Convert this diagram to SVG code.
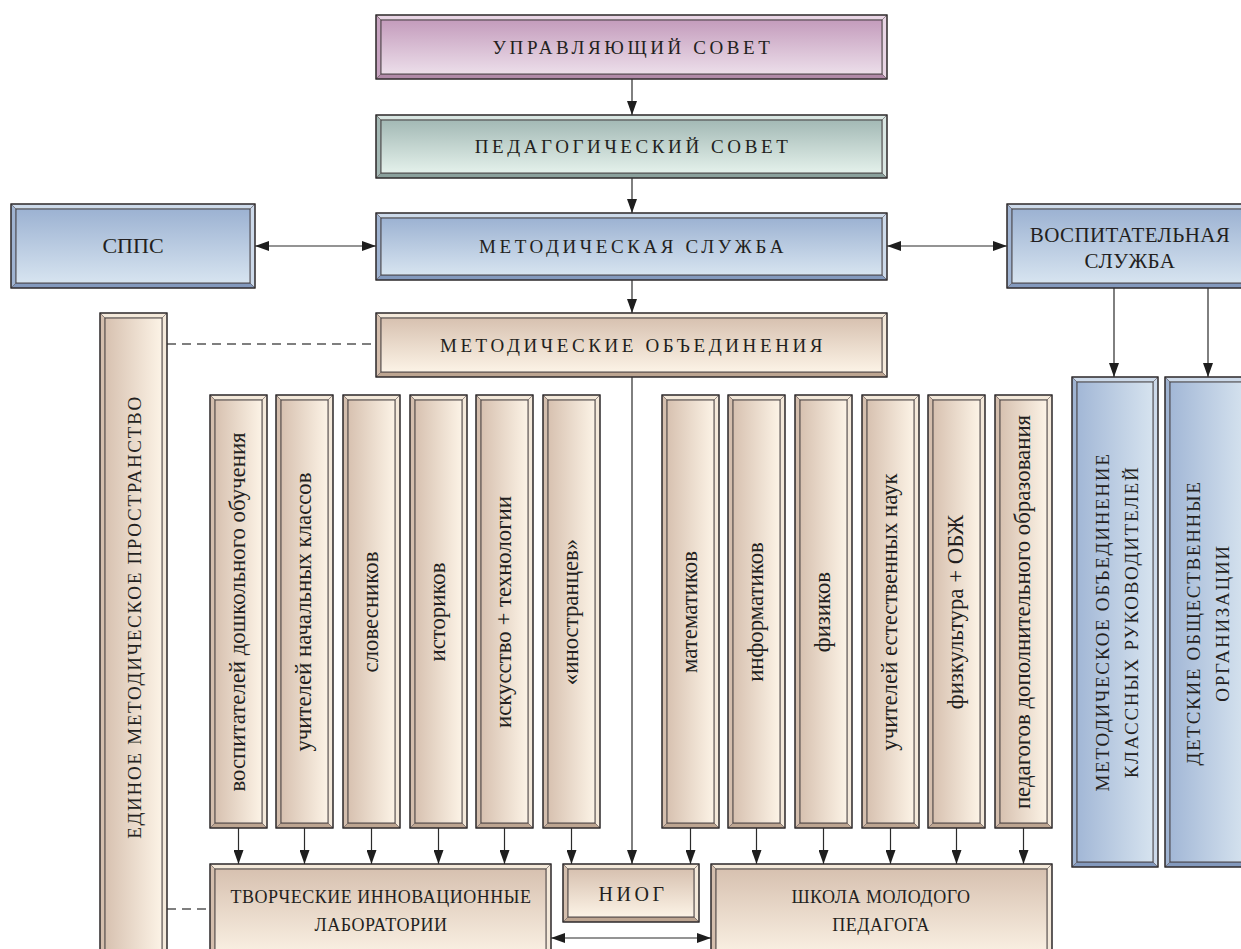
<svg xmlns="http://www.w3.org/2000/svg" xmlns:xlink="http://www.w3.org/1999/xlink" width="1241" height="949" viewBox="0 0 1241 949" font-family="'Liberation Serif', 'DejaVu Serif', serif">
<style>
text{font-family:'Liberation Serif','DejaVu Serif',serif;fill:#231f20}
.h{font-size:19px;letter-spacing:3.6px;text-anchor:middle}
.c{font-size:21px;letter-spacing:0.4px;text-anchor:middle}
.v{font-size:19px;letter-spacing:1.7px;text-anchor:middle}
.s{font-size:22.8px;text-anchor:middle}
.b{font-size:18px;letter-spacing:0.5px;text-anchor:middle}
.ol{fill:none;stroke:#2e2a2b;stroke-width:1.4}
.in{stroke:#3d3738;stroke-width:0.9}
polygon{stroke:#5e5457;stroke-width:0.5}
.pl{fill:#e8d5e4}.pm{fill:#c7a3c0}.pd{fill:#b08aa8}
.gl{fill:#d9e6e2}.gm{fill:#a3b8b4}.gd{fill:#8aa09c}
.ul{fill:#cddaea}.um{fill:#9fb3d1}.ud{fill:#8399bd}
.el{fill:#f4e9da}.em{fill:#d4bead}.ed{fill:#bda591}
.ln{fill:none;stroke:#2b2b2b;stroke-width:1.2}
.ar{marker-end:url(#ah)}
.dar{marker-start:url(#ah);marker-end:url(#ah)}
.ds{fill:none;stroke:#555;stroke-width:1.3;stroke-dasharray:9 6}
</style>
<defs>
<marker id="ah" markerUnits="userSpaceOnUse" markerWidth="14" markerHeight="10" refX="14" refY="5" orient="auto-start-reverse" viewBox="0 0 14 10"><path d="M0,0 L14,5 L0,10 z" fill="#1e1e1e"/></marker>
<linearGradient id="pkV" x1="0" y1="0" x2="0" y2="1"><stop offset="0" stop-color="#c49cbc"/><stop offset="1" stop-color="#ecdeea"/></linearGradient>
<linearGradient id="gnV" x1="0" y1="0" x2="0" y2="1"><stop offset="0" stop-color="#a3b9b5"/><stop offset="1" stop-color="#e4f1eb"/></linearGradient>
<linearGradient id="buV" x1="0" y1="0" x2="0" y2="1"><stop offset="0" stop-color="#9cb2d2"/><stop offset="1" stop-color="#d7e4f0"/></linearGradient>
<linearGradient id="buH" x1="0" y1="0" x2="1" y2="0"><stop offset="0" stop-color="#a2b7d6"/><stop offset="1" stop-color="#d6e3ef"/></linearGradient>
<linearGradient id="beV" x1="0" y1="0" x2="0" y2="1"><stop offset="0" stop-color="#d7c1b0"/><stop offset="1" stop-color="#fcf3e6"/></linearGradient>
<linearGradient id="beH" x1="0" y1="0" x2="1" y2="0"><stop offset="0" stop-color="#d7c1b0"/><stop offset="1" stop-color="#fcf3e6"/></linearGradient>
<symbol id="sb" viewBox="0 0 57 433" width="57" height="433" overflow="visible">
<rect width="57" height="433" class="em"/>
<polygon class="el" points="0,0 57,0 52,5 5,5"/>
<polygon class="el" points="57,0 57,433 52,428 52,5"/>
<polygon class="ed" points="0,433 57,433 52,428 5,428"/>
<polygon class="em" points="0,0 0,433 5,428 5,5"/>
<rect x="5" y="5" width="47" height="423" fill="url(#beH)" class="in"/>
<rect width="57" height="433" class="ol"/>
</symbol>
<symbol id="ub" viewBox="0 0 86 490" width="86" height="490" overflow="visible">
<rect width="86" height="490" class="um"/>
<polygon class="ul" points="0,0 86,0 81,5 5,5"/>
<polygon class="ul" points="86,0 86,490 81,485 81,5"/>
<polygon class="ud" points="0,490 86,490 81,485 5,485"/>
<polygon class="um" points="0,0 0,490 5,485 5,5"/>
<rect x="5" y="5" width="76" height="480" fill="url(#buH)" class="in"/>
<rect width="86" height="490" class="ol"/>
</symbol>
<symbol id="lb" viewBox="0 0 341 100" width="341" height="100" overflow="visible">
<rect width="341" height="100" class="em"/>
<polygon class="el" points="0,0 341,0 336,5 5,5"/>
<polygon class="el" points="341,0 341,100 336,95 336,5"/>
<polygon class="ed" points="0,100 341,100 336,95 5,95"/>
<polygon class="em" points="0,0 0,100 5,95 5,5"/>
<rect x="5" y="5" width="331" height="90" fill="url(#beV)" class="in"/>
<rect width="341" height="100" class="ol"/>
</symbol>
</defs>
<rect width="1241" height="949" fill="#ffffff"/>

<g id="connectors">
<line class="ln ar" x1="632" y1="79" x2="632" y2="115"/>
<line class="ln ar" x1="632" y1="178" x2="632" y2="213"/>
<line class="ln ar" x1="632" y1="280" x2="632" y2="313"/>
<line class="ln ar" x1="632" y1="377" x2="632" y2="864"/>
<line class="ln dar" x1="255" y1="246" x2="376" y2="246"/>
<line class="ln dar" x1="887" y1="246" x2="1007" y2="246"/>
<line class="ln ar" x1="1114" y1="288" x2="1114" y2="377"/>
<line class="ln ar" x1="1208" y1="288" x2="1208" y2="377"/>
<line class="ds" x1="167" y1="344" x2="376" y2="344"/>
<line class="ds" x1="167" y1="909" x2="210" y2="909"/>
<line class="ln dar" x1="551" y1="938" x2="711" y2="938"/>
<line class="ln ar" x1="238.5" y1="828" x2="238.5" y2="864"/>
<line class="ln ar" x1="304.5" y1="828" x2="304.5" y2="864"/>
<line class="ln ar" x1="371.5" y1="828" x2="371.5" y2="864"/>
<line class="ln ar" x1="438.5" y1="828" x2="438.5" y2="864"/>
<line class="ln ar" x1="504.5" y1="828" x2="504.5" y2="864"/>
<line class="ln ar" x1="571.5" y1="828" x2="571.5" y2="864"/>
<line class="ln ar" x1="690.5" y1="828" x2="690.5" y2="864"/>
<line class="ln ar" x1="756.5" y1="828" x2="756.5" y2="864"/>
<line class="ln ar" x1="823.5" y1="828" x2="823.5" y2="864"/>
<line class="ln ar" x1="890.5" y1="828" x2="890.5" y2="864"/>
<line class="ln ar" x1="956.5" y1="828" x2="956.5" y2="864"/>
<line class="ln ar" x1="1023.5" y1="828" x2="1023.5" y2="864"/>
</g>

<g id="upravl">
<rect x="376" y="15" width="511" height="64" class="pm"/>
<polygon class="pl" points="376,15 887,15 882,20 381,20"/>
<polygon class="pl" points="887,15 887,79 882,74 882,20"/>
<polygon class="pd" points="376,79 887,79 882,74 381,74"/>
<polygon class="pm" points="376,15 376,79 381,74 381,20"/>
<rect x="381" y="20" width="501" height="54" fill="url(#pkV)" class="in"/>
<rect x="376" y="15" width="511" height="64" class="ol"/>
<text class="h" x="633" y="53.5">УПРАВЛЯЮЩИЙ СОВЕТ</text>
</g>

<g id="pedsovet">
<rect x="376" y="115" width="511" height="63" class="gm"/>
<polygon class="gl" points="376,115 887,115 882,120 381,120"/>
<polygon class="gl" points="887,115 887,178 882,173 882,120"/>
<polygon class="gd" points="376,178 887,178 882,173 381,173"/>
<polygon class="gm" points="376,115 376,178 381,173 381,120"/>
<rect x="381" y="120" width="501" height="53" fill="url(#gnV)" class="in"/>
<rect x="376" y="115" width="511" height="63" class="ol"/>
<text class="h" x="633" y="153">ПЕДАГОГИЧЕСКИЙ СОВЕТ</text>
</g>

<g id="metsluzhba">
<rect x="376" y="213" width="511" height="67" class="um"/>
<polygon class="ul" points="376,213 887,213 882,218 381,218"/>
<polygon class="ul" points="887,213 887,280 882,275 882,218"/>
<polygon class="ud" points="376,280 887,280 882,275 381,275"/>
<polygon class="um" points="376,213 376,280 381,275 381,218"/>
<rect x="381" y="218" width="501" height="57" fill="url(#buV)" class="in"/>
<rect x="376" y="213" width="511" height="67" class="ol"/>
<text class="h" x="633" y="253">МЕТОДИЧЕСКАЯ СЛУЖБА</text>
</g>

<g id="spps">
<rect x="11" y="204" width="244" height="84" class="um"/>
<polygon class="ul" points="11,204 255,204 250,209 16,209"/>
<polygon class="ul" points="255,204 255,288 250,283 250,209"/>
<polygon class="ud" points="11,288 255,288 250,283 16,283"/>
<polygon class="um" points="11,204 11,288 16,283 16,209"/>
<rect x="16" y="209" width="234" height="74" fill="url(#buV)" class="in"/>
<rect x="11" y="204" width="244" height="84" class="ol"/>
<text class="c" x="133" y="253" style="font-size:22px;letter-spacing:0">СППС</text>
</g>

<g id="vospit">
<rect x="1007" y="204" width="244" height="84" class="um"/>
<polygon class="ul" points="1007,204 1251,204 1246,209 1012,209"/>
<polygon class="ul" points="1251,204 1251,288 1246,283 1246,209"/>
<polygon class="ud" points="1007,288 1251,288 1246,283 1012,283"/>
<polygon class="um" points="1007,204 1007,288 1012,283 1012,209"/>
<rect x="1012" y="209" width="234" height="74" fill="url(#buV)" class="in"/>
<rect x="1007" y="204" width="244" height="84" class="ol"/>
<text class="c" x="1130" y="242">ВОСПИТАТЕЛЬНАЯ</text>
<text class="c" x="1130" y="268">СЛУЖБА</text>
</g>

<g id="metobed">
<rect x="376" y="313" width="511" height="64" class="em"/>
<polygon class="el" points="376,313 887,313 882,318 381,318"/>
<polygon class="el" points="887,313 887,377 882,372 882,318"/>
<polygon class="ed" points="376,377 887,377 882,372 381,372"/>
<polygon class="em" points="376,313 376,377 381,372 381,318"/>
<rect x="381" y="318" width="501" height="54" fill="url(#beV)" class="in"/>
<rect x="376" y="313" width="511" height="64" class="ol"/>
<text class="h" x="633" y="352">МЕТОДИЧЕСКИЕ ОБЪЕДИНЕНИЯ</text>
</g>

<g id="edinoe">
<rect x="100" y="313" width="67" height="660" class="em"/>
<polygon class="el" points="100,313 167,313 162,318 105,318"/>
<polygon class="el" points="167,313 167,973 162,968 162,318"/>
<polygon class="em" points="100,313 100,973 105,968 105,318"/>
<rect x="105" y="318" width="57" height="650" fill="url(#beH)" class="in"/>
<rect x="100" y="313" width="67" height="660" class="ol"/>
<text class="v" transform="translate(134,617) rotate(-90)" y="6.5">ЕДИНОЕ МЕТОДИЧЕСКОЕ ПРОСТРАНСТВО</text>
</g>

<g id="mo1"><use xlink:href="#sb" x="210" y="395"/><text class="s" transform="translate(238.5,612) rotate(-90)" y="6.5">воспитателей дошкольного обучения</text></g>
<g id="mo2"><use xlink:href="#sb" x="276" y="395"/><text class="s" transform="translate(304.5,612) rotate(-90)" y="6.5">учителей начальных классов</text></g>
<g id="mo3"><use xlink:href="#sb" x="343" y="395"/><text class="s" transform="translate(371.5,612) rotate(-90)" y="6.5">словесников</text></g>
<g id="mo4"><use xlink:href="#sb" x="410" y="395"/><text class="s" transform="translate(438.5,612) rotate(-90)" y="6.5">историков</text></g>
<g id="mo5"><use xlink:href="#sb" x="476" y="395"/><text class="s" transform="translate(504.5,612) rotate(-90)" y="6.5">искусство + технологии</text></g>
<g id="mo6"><use xlink:href="#sb" x="543" y="395"/><text class="s" transform="translate(571.5,612) rotate(-90)" y="6.5">«иностранцев»</text></g>
<g id="mo7"><use xlink:href="#sb" x="662" y="395"/><text class="s" transform="translate(690.5,612) rotate(-90)" y="6.5">математиков</text></g>
<g id="mo8"><use xlink:href="#sb" x="728" y="395"/><text class="s" transform="translate(756.5,612) rotate(-90)" y="6.5">информатиков</text></g>
<g id="mo9"><use xlink:href="#sb" x="795" y="395"/><text class="s" transform="translate(823.5,612) rotate(-90)" y="6.5">физиков</text></g>
<g id="mo10"><use xlink:href="#sb" x="862" y="395"/><text class="s" transform="translate(890.5,612) rotate(-90)" y="6.5">учителей естественных наук</text></g>
<g id="mo11"><use xlink:href="#sb" x="928" y="395"/><text class="s" transform="translate(956.5,612) rotate(-90)" y="6.5">физкультура + ОБЖ</text></g>
<g id="mo12"><use xlink:href="#sb" x="995" y="395"/><text class="s" transform="translate(1023.5,612) rotate(-90)" y="6.5">педагогов дополнительного образования</text></g>

<g id="mokr"><use xlink:href="#ub" x="1072" y="377"/>
<text class="v" transform="translate(1117,622) rotate(-90)" y="-8">МЕТОДИЧЕСКОЕ ОБЪЕДИНЕНИЕ</text>
<text class="v" transform="translate(1117,622) rotate(-90)" y="21">КЛАССНЫХ РУКОВОДИТЕЛЕЙ</text></g>
<g id="detorg"><use xlink:href="#ub" x="1165" y="377"/>
<text class="v" transform="translate(1208,623) rotate(-90)" y="-8">ДЕТСКИЕ ОБЩЕСТВЕННЫЕ</text>
<text class="v" transform="translate(1208,623) rotate(-90)" y="21">ОРГАНИЗАЦИИ</text></g>

<g id="tvorch"><use xlink:href="#lb" x="210" y="864"/>
<text class="b" x="381" y="903">ТВОРЧЕСКИЕ ИННОВАЦИОННЫЕ</text>
<text class="b" x="381" y="931">ЛАБОРАТОРИИ</text></g>

<g id="niog">
<rect x="563" y="864" width="136" height="58" class="em"/>
<polygon class="el" points="563,864 699,864 694,869 568,869"/>
<polygon class="el" points="699,864 699,922 694,917 694,869"/>
<polygon class="ed" points="563,922 699,922 694,917 568,917"/>
<polygon class="em" points="563,864 563,922 568,917 568,869"/>
<rect x="568" y="869" width="126" height="48" fill="url(#beV)" class="in"/>
<rect x="563" y="864" width="136" height="58" class="ol"/>
<text class="c" x="633" y="901" style="font-size:20px;letter-spacing:3.5px">НИОГ</text>
</g>

<g id="shkola"><use xlink:href="#lb" x="711" y="864"/>
<text class="b" x="881" y="903">ШКОЛА МОЛОДОГО</text>
<text class="b" x="881" y="931">ПЕДАГОГА</text></g>
</svg>
